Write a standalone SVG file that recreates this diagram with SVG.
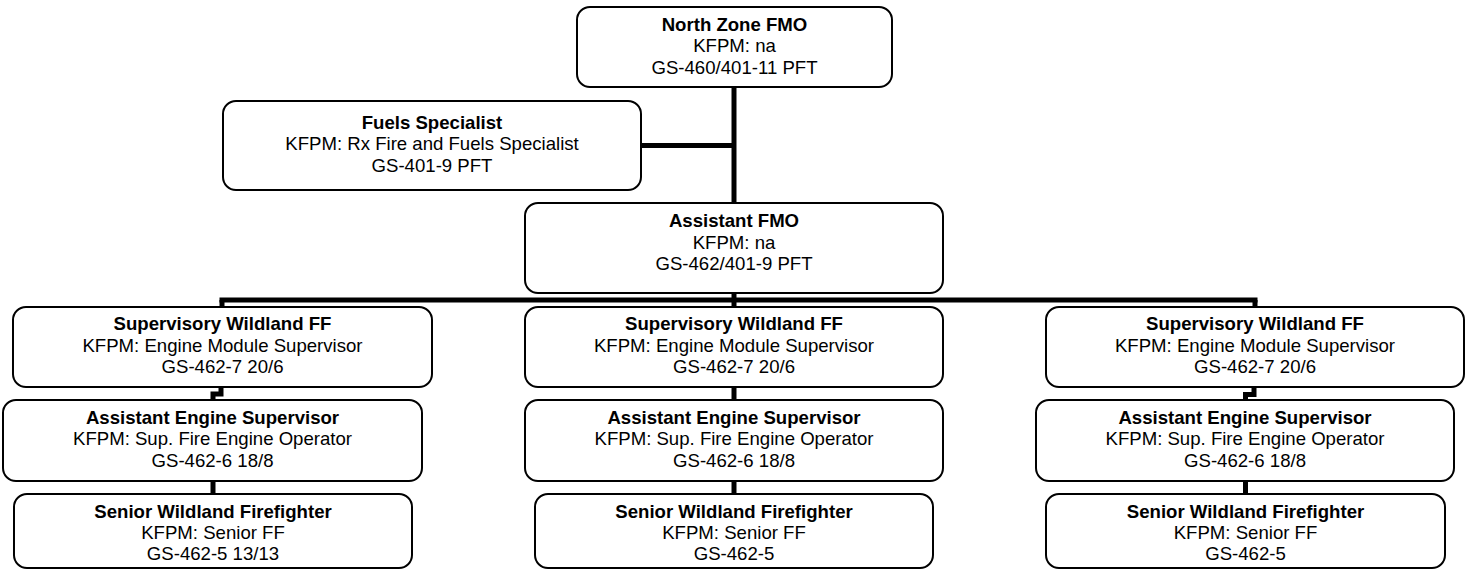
<svg xmlns="http://www.w3.org/2000/svg" width="1471" height="571" viewBox="0 0 1471 571">
<style>
.box{fill:#fff;stroke:#000;stroke-width:2}
text{font-family:"Liberation Sans",Arial,sans-serif;font-size:18.6px;fill:#000;text-anchor:middle}
.t{font-weight:bold}
.c{fill:none;stroke:#000;stroke-width:5;stroke-linejoin:miter}
</style>
<rect width="1471" height="571" fill="#fff"/>
<g id="connectors">
<path class="c" d="M734 87 V203"/>
<path class="c" d="M641 145.5 H734"/>
<path class="c" d="M734 293 V307"/>
<path class="c" d="M219.5 300 H1257.5"/>
<path class="c" d="M222 300 V307"/>
<path class="c" d="M1255 300 V307"/>
<path class="c" d="M221 387 V394 H213 V400"/>
<path class="c" d="M734 387 V400"/>
<path class="c" d="M1254 387 V394.5 H1245.5 V400"/>
<path class="c" d="M213 481 V494"/>
<path class="c" d="M734 481 V494"/>
<path class="c" d="M1245.5 481 V494"/>
</g>
<g id="north-zone-fmo">
<rect class="box" x="577" y="7" width="315" height="80" rx="13"/>
<text x="734.5" y="30.5" class="t">North Zone FMO</text>
<text x="734.5" y="52">KFPM: na</text>
<text x="734.5" y="73.5">GS-460/401-11 PFT</text>
</g>
<g id="fuels-specialist">
<rect class="box" x="223" y="101" width="418" height="89" rx="13"/>
<text x="432" y="128.5" class="t">Fuels Specialist</text>
<text x="432" y="150">KFPM: Rx Fire and Fuels Specialist</text>
<text x="432" y="171.5">GS-401-9 PFT</text>
</g>
<g id="assistant-fmo">
<rect class="box" x="525" y="203" width="418" height="90" rx="13"/>
<text x="734" y="226.5" class="t">Assistant FMO</text>
<text x="734" y="248.5">KFPM: na</text>
<text x="734" y="270">GS-462/401-9 PFT</text>
</g>
<g id="swff-left">
<rect class="box" x="13" y="307" width="419" height="80" rx="13"/>
<text x="222.5" y="329.5" class="t">Supervisory Wildland FF</text>
<text x="222.5" y="351.5">KFPM: Engine Module Supervisor</text>
<text x="222.5" y="373">GS-462-7 20/6</text>
</g>
<g id="swff-mid">
<rect class="box" x="525" y="307" width="418" height="80" rx="13"/>
<text x="734" y="329.5" class="t">Supervisory Wildland FF</text>
<text x="734" y="351.5">KFPM: Engine Module Supervisor</text>
<text x="734" y="373">GS-462-7 20/6</text>
</g>
<g id="swff-right">
<rect class="box" x="1046" y="307" width="418" height="80" rx="13"/>
<text x="1255" y="329.5" class="t">Supervisory Wildland FF</text>
<text x="1255" y="351.5">KFPM: Engine Module Supervisor</text>
<text x="1255" y="373">GS-462-7 20/6</text>
</g>
<g id="aes-left">
<rect class="box" x="3" y="400" width="419" height="81" rx="13"/>
<text x="212.5" y="423.5" class="t">Assistant Engine Supervisor</text>
<text x="212.5" y="445">KFPM: Sup. Fire Engine Operator</text>
<text x="212.5" y="466.5">GS-462-6 18/8</text>
</g>
<g id="aes-mid">
<rect class="box" x="525" y="400" width="418" height="81" rx="13"/>
<text x="734" y="423.5" class="t">Assistant Engine Supervisor</text>
<text x="734" y="445">KFPM: Sup. Fire Engine Operator</text>
<text x="734" y="466.5">GS-462-6 18/8</text>
</g>
<g id="aes-right">
<rect class="box" x="1036" y="400" width="418" height="81" rx="13"/>
<text x="1245" y="423.5" class="t">Assistant Engine Supervisor</text>
<text x="1245" y="445">KFPM: Sup. Fire Engine Operator</text>
<text x="1245" y="466.5">GS-462-6 18/8</text>
</g>
<g id="swf-left">
<rect class="box" x="14" y="494" width="398" height="74" rx="13"/>
<text x="213" y="517.5" class="t">Senior Wildland Firefighter</text>
<text x="213" y="538.5">KFPM: Senior FF</text>
<text x="213" y="560">GS-462-5 13/13</text>
</g>
<g id="swf-mid">
<rect class="box" x="535" y="494" width="398" height="74" rx="13"/>
<text x="734" y="517.5" class="t">Senior Wildland Firefighter</text>
<text x="734" y="538.5">KFPM: Senior FF</text>
<text x="734" y="560">GS-462-5</text>
</g>
<g id="swf-right">
<rect class="box" x="1046" y="494" width="399" height="74" rx="13"/>
<text x="1245.5" y="517.5" class="t">Senior Wildland Firefighter</text>
<text x="1245.5" y="538.5">KFPM: Senior FF</text>
<text x="1245.5" y="560">GS-462-5</text>
</g>
</svg>
